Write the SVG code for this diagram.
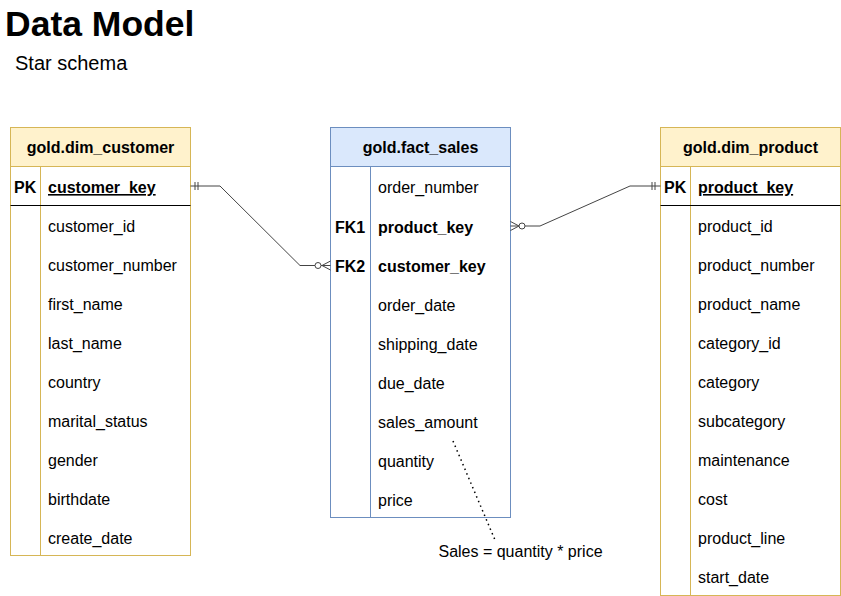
<svg xmlns="http://www.w3.org/2000/svg" width="841" height="596" viewBox="0 0 841 596">
<style>
text{font-family:"Liberation Sans",Arial,sans-serif;fill:#000}
.f{font-size:16px}
.b{font-size:16px;font-weight:bold}
.h{font-size:16px;font-weight:bold;text-anchor:middle}
.u{text-decoration:underline}
.y{fill:#fff2cc;stroke:#d6b656;stroke-width:1}
.yb{fill:#fff;stroke:#d6b656;stroke-width:1}
.bl{fill:#dae8fc;stroke:#6c8ebf;stroke-width:1}
.bb{fill:#fff;stroke:#6c8ebf;stroke-width:1}
.c{fill:none;stroke:#444;stroke-width:1}
</style>
<rect width="841" height="596" fill="#fff"/>
<text x="5" y="36" style="font-size:35.5px;font-weight:bold">Data Model</text>
<text x="15" y="70" style="font-size:20px">Star schema</text>

<g id="dim_customer">
<rect class="y" x="10.5" y="127.5" width="180" height="39"/>
<rect class="yb" x="10.5" y="166.5" width="180" height="389"/>
<line x1="40.5" y1="166.5" x2="40.5" y2="555.5" stroke="#d6b656"/>
<line x1="10.5" y1="205.5" x2="190.5" y2="205.5" stroke="#000"/>
<text class="h" x="100.5" y="153">gold.dim_customer</text>
<text class="b" x="14" y="193">PK</text>
<text class="b u" x="48" y="193">customer_key</text>
<text class="f" x="48" y="232">customer_id</text>
<text class="f" x="48" y="271">customer_number</text>
<text class="f" x="48" y="310">first_name</text>
<text class="f" x="48" y="349">last_name</text>
<text class="f" x="48" y="388">country</text>
<text class="f" x="48" y="427">marital_status</text>
<text class="f" x="48" y="466">gender</text>
<text class="f" x="48" y="505">birthdate</text>
<text class="f" x="48" y="544">create_date</text>
</g>

<g id="fact_sales">
<rect class="bl" x="330.5" y="127.5" width="180" height="39"/>
<rect class="bb" x="330.5" y="166.5" width="180" height="351"/>
<line x1="370.5" y1="166.5" x2="370.5" y2="517.5" stroke="#6c8ebf"/>
<text class="h" x="420.5" y="153">gold.fact_sales</text>
<text class="f" x="378" y="193">order_number</text>
<text class="b" x="335" y="233">FK1</text>
<text class="b" x="378" y="233">product_key</text>
<text class="b" x="335" y="272">FK2</text>
<text class="b" x="378" y="272">customer_key</text>
<text class="f" x="378" y="311">order_date</text>
<text class="f" x="378" y="350">shipping_date</text>
<text class="f" x="378" y="389">due_date</text>
<text class="f" x="378" y="428">sales_amount</text>
<text class="f" x="378" y="467">quantity</text>
<text class="f" x="378" y="506">price</text>
</g>

<g id="dim_product">
<rect class="y" x="660.5" y="127.5" width="180" height="39"/>
<rect class="yb" x="660.5" y="166.5" width="180" height="429"/>
<line x1="690.5" y1="166.5" x2="690.5" y2="595.5" stroke="#d6b656"/>
<line x1="660.5" y1="205.5" x2="840.5" y2="205.5" stroke="#000"/>
<text class="h" x="750.5" y="153">gold.dim_product</text>
<text class="b" x="664" y="193">PK</text>
<text class="b u" x="698" y="193">product_key</text>
<text class="f" x="698" y="232">product_id</text>
<text class="f" x="698" y="271">product_number</text>
<text class="f" x="698" y="310">product_name</text>
<text class="f" x="698" y="349">category_id</text>
<text class="f" x="698" y="388">category</text>
<text class="f" x="698" y="427">subcategory</text>
<text class="f" x="698" y="466">maintenance</text>
<text class="f" x="698" y="505">cost</text>
<text class="f" x="698" y="544">product_line</text>
<text class="f" x="698" y="583">start_date</text>
</g>

<g id="connectors">
<polyline class="c" points="190.5,186 220,186 300,265.5 315,265.5"/>
<line class="c" x1="195" y1="182" x2="195" y2="190"/>
<line class="c" x1="198" y1="182" x2="198" y2="190"/>
<circle class="c" cx="318" cy="265.5" r="3"/>
<polyline class="c" points="330.5,261 322,265.5 330.5,270"/>
<line class="c" x1="321" y1="265.5" x2="330.5" y2="265.5"/>

<polyline class="c" points="525,226 540,226 630,186 660.5,186"/>
<line class="c" x1="652" y1="182" x2="652" y2="190"/>
<line class="c" x1="655" y1="182" x2="655" y2="190"/>
<circle class="c" cx="522" cy="226" r="3"/>
<polyline class="c" points="510.5,221.5 519,226 510.5,230.5"/>
<line class="c" x1="510.5" y1="226" x2="519" y2="226"/>

<line x1="453" y1="441" x2="495" y2="540" stroke="#000" stroke-width="1.5" stroke-dasharray="1.5 3.5"/>
<text class="f" x="520.5" y="557" text-anchor="middle">Sales = quantity * price</text>
</g>
</svg>
